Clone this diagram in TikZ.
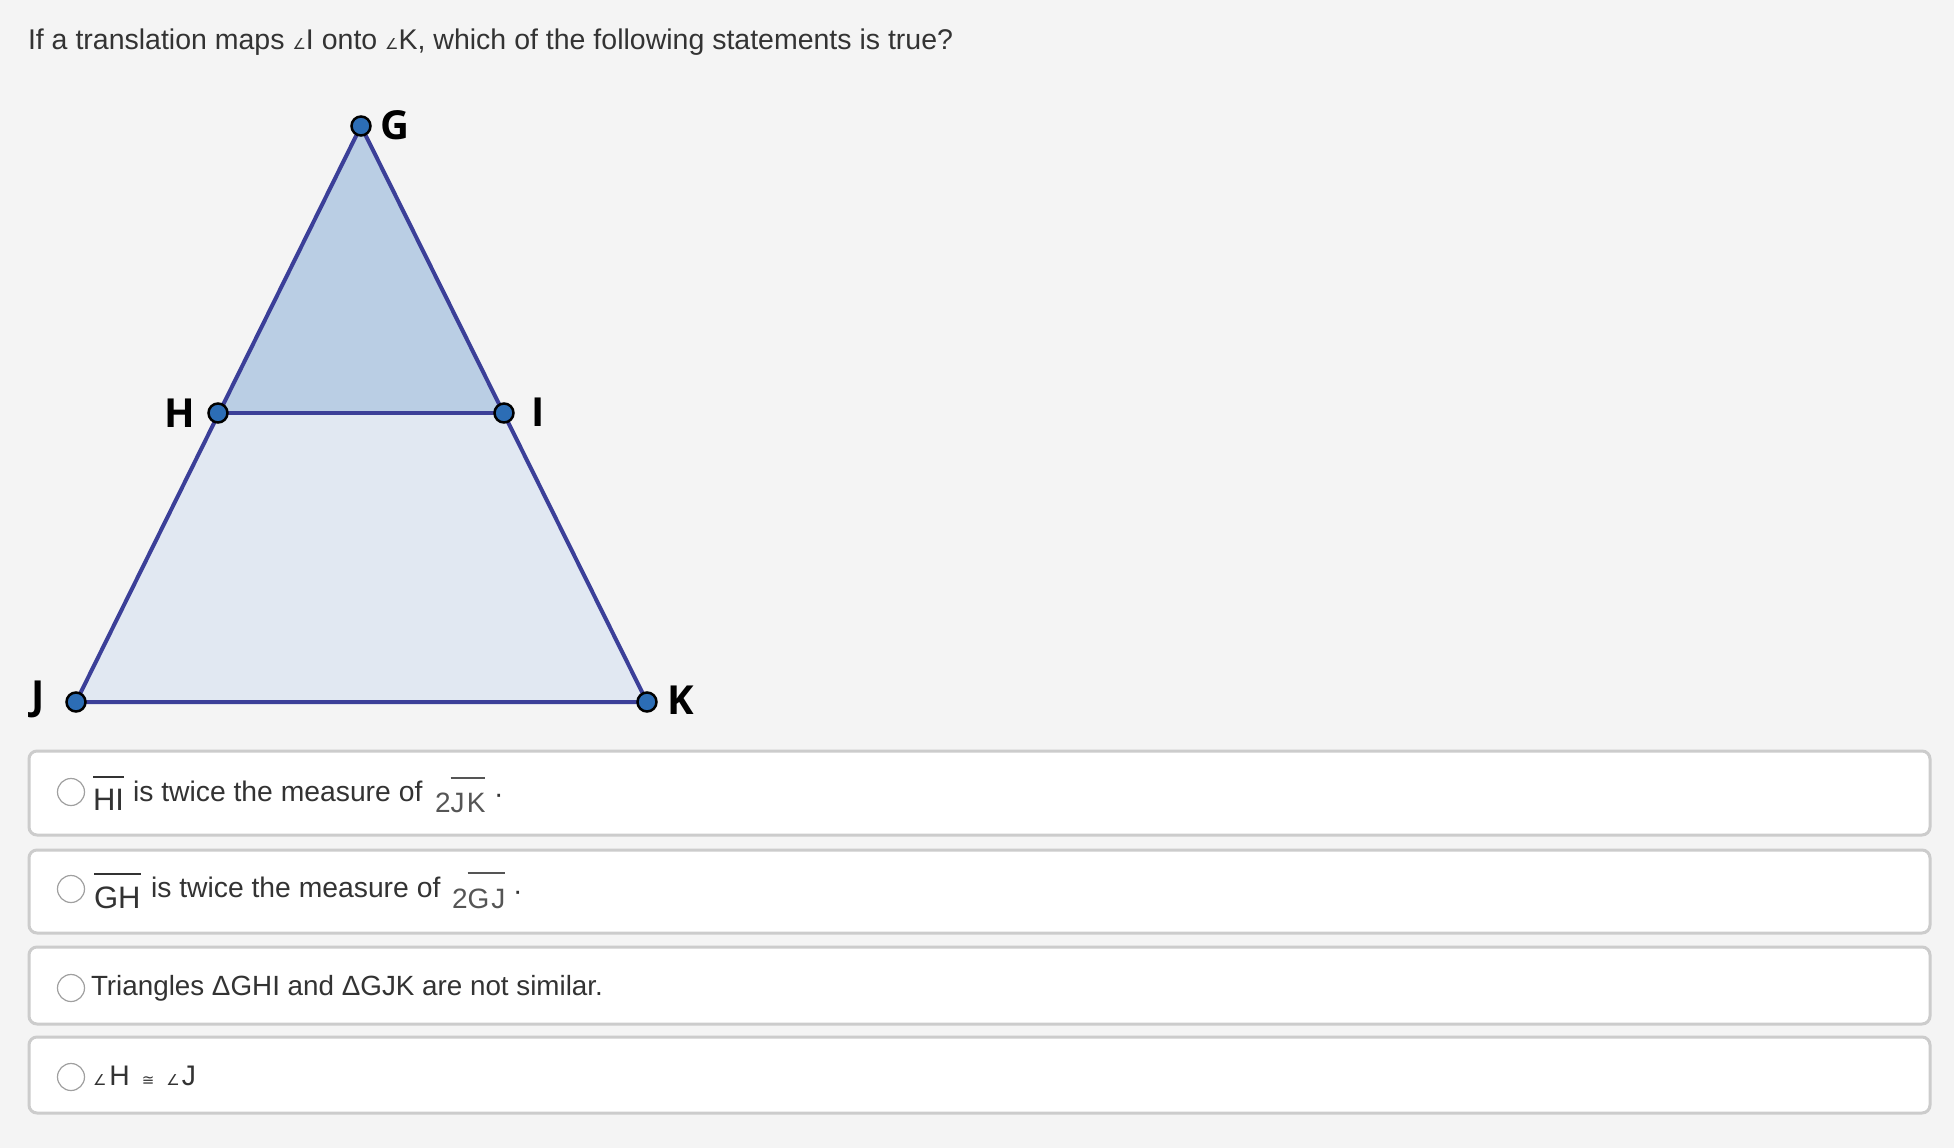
\documentclass[tikz,border=0pt]{standalone}
\usepackage{fontspec}
\setmainfont{Liberation Sans}
\newfontfamily\lblfont{Open Sans}
\newfontfamily\symfont{DejaVu Sans}
\newfontfamily\spacedfont[LetterSpace=8]{Liberation Sans}
\definecolor{bg}{HTML}{F4F4F4}
\definecolor{boxline}{HTML}{CCCCCC}
\definecolor{txt}{HTML}{333333}
\definecolor{thintxt}{HTML}{555555}
\definecolor{edgec}{HTML}{3B3F98}
\definecolor{topfill}{HTML}{BACEE4}
\definecolor{botfill}{HTML}{E1E8F2}
\definecolor{dotfill}{HTML}{2C6DB5}
\definecolor{radioline}{HTML}{A0A0A0}
\newcommand\ovbar[2][13pt]{\vbox{\hrule height 2pt\kern#1\hbox{#2}}}
\newcommand\sang{{\symfont\fontsize{15}{15}\selectfont ∠}}
\newcommand\scong{{\symfont\fontsize{15}{15}\selectfont ≅}}
\begin{document}
\begin{tikzpicture}[x=1pt,y=-1pt,
  txtnode/.style={inner sep=0pt,outer sep=0pt,anchor=base west,text=txt,font=\fontsize{28.3}{32}\selectfont},
  segnode/.style={inner sep=0pt,outer sep=0pt,anchor=base west,text=txt,font=\fontsize{31}{34}\selectfont},
  thinnode/.style={inner sep=0pt,outer sep=0pt,anchor=base west,text=thintxt,font=\spacedfont\fontsize{28}{32}\selectfont},
  lbl/.style={inner sep=0pt,outer sep=0pt,anchor=center,text=black,font=\lblfont\bfseries\fontsize{40}{44}\selectfont},
  edge/.style={draw=edgec,line width=4pt,line join=round,line cap=round},
  vdot/.style={circle,draw=black,line width=2.5pt,fill=dotfill,minimum size=19pt,inner sep=0pt},
  optbox/.style={draw=boxline,line width=3pt,fill=white,rounded corners=8pt},
  radio/.style={circle,draw=radioline,line width=1.2pt,fill=white,minimum size=27pt,inner sep=0pt}]
\fill[bg] (0,0) rectangle (1954,1148);
\useasboundingbox (0,0) rectangle (1954,1148);

% title
\node[txtnode,font=\fontsize{28.5}{32}\selectfont] (title) at (28,50) {If a translation maps \sang I onto \sang K, which of the following statements is true?};

% triangle
\coordinate (G) at (361,126);
\coordinate (H) at (218,413);
\coordinate (I) at (504,413);
\coordinate (J) at (76,702);
\coordinate (K) at (647,702);
\fill[topfill] (G) -- (H) -- (I) -- cycle;
\fill[botfill] (H) -- (I) -- (K) -- (J) -- cycle;
\draw[edge] (G) -- (J) -- (K) -- cycle;
\draw[edge] (H) -- (I);
\node[vdot] (dG) at (G) {};
\node[vdot] (dH) at (H) {};
\node[vdot] (dI) at (I) {};
\node[vdot] (dJ) at (J) {};
\node[vdot] (dK) at (K) {};
\node[lbl] (lG) at (395,125) {G};
\node[lbl] (lH) at (180,413) {H};
\node[lbl] (lI) at (538,412) {I};
\node[lbl] (lJ) at (38,699) {J};
\node[lbl] (lK) at (681,700) {K};

% option boxes
\draw[optbox] (29,751) rectangle (1930,835);
\draw[optbox] (29,850) rectangle (1930,933);
\draw[optbox] (29,947) rectangle (1930,1024);
\draw[optbox] (29,1037) rectangle (1930,1113);

\node[radio] (r1) at (71,792) {};
\node[radio] (r2) at (71,889) {};
\node[radio] (r3) at (71,988) {};
\node[radio] (r4) at (71,1077) {};

% option 1
\node[segnode] (o1a) at (93,810) {\ovbar[11pt]{HI}};
\node[txtnode] (o1b) at (133,801) {is twice the measure of};
\node[thinnode] (o1c) at (435,812) {2\ovbar[14pt]{JK}};
\node[txtnode] (o1d) at (494,803) {·};

% option 2
\node[segnode] (o2a) at (94,908) {\ovbar[11pt]{GH}};
\node[txtnode] (o2b) at (151,897) {is twice the measure of};
\node[thinnode] (o2c) at (452,908) {2\ovbar[14pt]{G\kern2pt J}};
\node[txtnode] (o2d) at (513,900) {·};

% option 3
\node[txtnode,font=\fontsize{27.8}{32}\selectfont] (o3) at (91,995) {Triangles ΔGHI and ΔGJK are not similar.};

% option 4
\node[txtnode] (o4) at (93,1085) {\sang\kern3pt H\kern12pt\scong\kern12pt\sang\kern2pt J};
\end{tikzpicture}
\end{document}
